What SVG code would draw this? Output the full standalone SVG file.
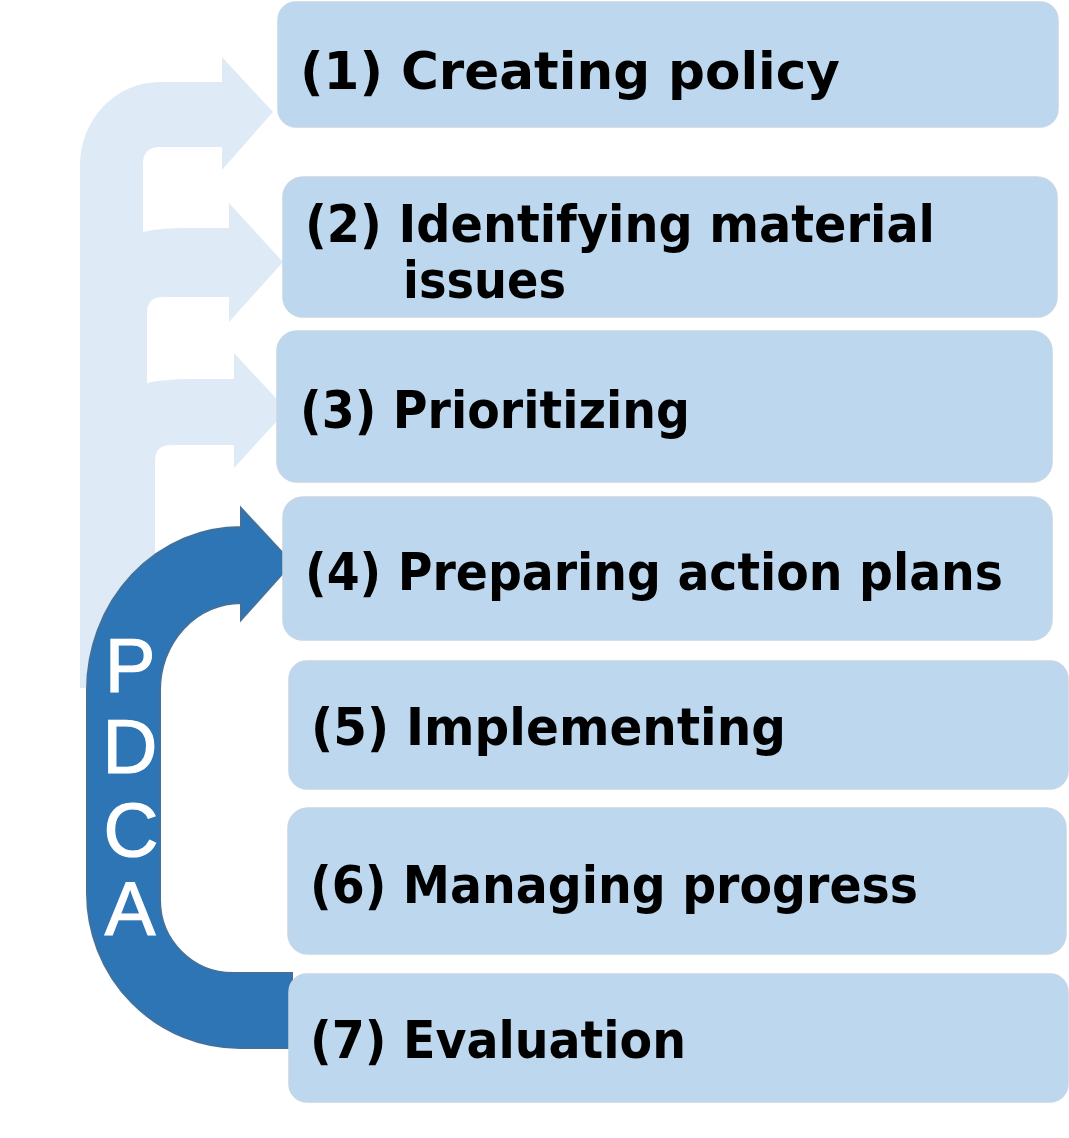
<svg xmlns="http://www.w3.org/2000/svg" width="1069" height="1138" viewBox="0 0 1069 1138">
<style>
.box{fill:#BDD7EE;stroke:#C5D6E6;stroke-width:1.5}
.lbl{font-family:"DejaVu Sans","Verdana",sans-serif;font-weight:bold;font-size:51px;fill:#000}
.pdca{font-family:"Liberation Sans",Arial,sans-serif;font-size:76px;fill:#fff;stroke:#fff;stroke-width:1.2;text-anchor:middle}
</style>
<rect width="1069" height="1138" fill="#fff"/>
<g id="connectors">
<path id="light-arrows" fill="#DEEBF7" d="M80,688 L80,165 A80,83 0 0 1 160,82 L222,82 L222,57 L273,112 L222,170 L222,147 L160,147 Q143,147 143,164 L143,232 C155,229 170,228 190,228 L229,228 L229,203 L283,262 L229,322 L229,297 L163,297 Q147,297 147,313 L147,383 C160,380 175,379 195,379 L234,379 L234,353 L287,410 L234,468 L234,445 L171,445 Q155,445 155,461 L155,688 Z"/>
<path id="pdca-arrow" fill="#2E75B6" stroke="#41719C" stroke-width="2" d="M292,1048 L240,1048 A153,155 0 0 1 87,893 L87,690 A154,163 0 0 1 241,527 L241,508 L292,563 L241,620 L241,603 A81,87 0 0 0 160,690 L160,900 A73,73 0 0 0 233,973 L292,973 Z"/>
<g id="pdca-label">
<text class="pdca" x="130" y="692">P</text>
<text class="pdca" x="130" y="773">D</text>
<text class="pdca" x="131" y="856">C</text>
<text class="pdca" x="130" y="935">A</text>
</g>
</g>
<g id="n1"><rect class="box" x="278" y="2" width="780" height="125" rx="18"/><text class="lbl" x="300" y="89" textLength="540" lengthAdjust="spacingAndGlyphs">(1) Creating policy</text></g>
<g id="n2"><rect class="box" x="283" y="177" width="774" height="140" rx="20"/><text class="lbl" x="305" y="242" textLength="630" lengthAdjust="spacingAndGlyphs">(2) Identifying material</text><text class="lbl" x="403" y="298" textLength="163" lengthAdjust="spacingAndGlyphs">issues</text></g>
<g id="n3"><rect class="box" x="277" y="331" width="775" height="151" rx="20"/><text class="lbl" x="300" y="428" textLength="390" lengthAdjust="spacingAndGlyphs">(3) Prioritizing</text></g>
<g id="n4"><rect class="box" x="283" y="497" width="769" height="143" rx="20"/><text class="lbl" x="305" y="590" textLength="698" lengthAdjust="spacingAndGlyphs">(4) Preparing action plans</text></g>
<g id="n5"><rect class="box" x="289" y="661" width="779" height="128" rx="18"/><text class="lbl" x="311" y="745" textLength="475" lengthAdjust="spacingAndGlyphs">(5) Implementing</text></g>
<g id="n6"><rect class="box" x="288" y="808" width="778" height="146" rx="20"/><text class="lbl" x="310" y="903" textLength="608" lengthAdjust="spacingAndGlyphs">(6) Managing progress</text></g>
<g id="n7"><rect class="box" x="289" y="974" width="779" height="128" rx="18"/><text class="lbl" x="310" y="1058" textLength="376" lengthAdjust="spacingAndGlyphs">(7) Evaluation</text></g>
</svg>
